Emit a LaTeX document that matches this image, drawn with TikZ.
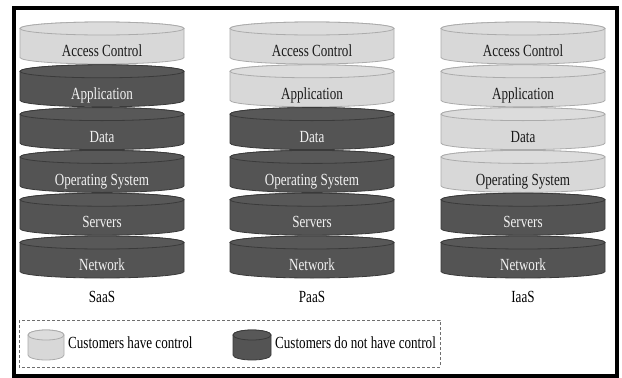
\documentclass[tikz,border=0pt]{standalone}
\usepackage{fontspec}
\setmainfont{Liberation Serif}[FakeStretch=0.77]
\usepackage{xcolor}
\definecolor{lightfill}{HTML}{D8D8D8}
\definecolor{lighttop}{HTML}{DCDCDC}
\definecolor{lightline}{HTML}{ABABAB}
\definecolor{darkfill}{HTML}{545454}
\definecolor{darktop}{HTML}{585858}
\definecolor{darkline}{HTML}{3A3A3A}
\definecolor{boxline}{HTML}{6E6E6E}

\tikzset{
  light drums/.style={
    drum body/.style={fill=lightfill,draw=lightline,line width=0.8pt},
    drum top/.style={fill=lighttop,draw=lightline,line width=0.8pt},
    drum text/.style={text=black!90}},
  dark drums/.style={
    drum body/.style={fill=darkfill,draw=darkline,line width=0.8pt},
    drum top/.style={fill=darktop,draw=darkline,line width=0.8pt},
    drum text/.style={text=white!95!black}},
  legendbox/.style={draw=boxline,line width=1pt,dash pattern=on 3pt off 2pt}
}

% one drum: centre x, top y, x radius, y radius, full height
\newcommand{\drum}[5]{%
  \path[drum body] (#1-#3,#2+#4) -- (#1-#3,#2+#5-#4)
    arc[start angle=180,end angle=0,x radius=#3,y radius=#4]
    -- (#1+#3,#2+#4)
    arc[start angle=0,end angle=-180,x radius=#3,y radius=#4] -- cycle;
  \path[drum top] (#1,#2+#4) ellipse[x radius=#3,y radius=#4];
}

\begin{document}
\begin{tikzpicture}[x=1pt,y=-1pt,
  every node/.style={inner sep=0pt,font=\fontsize{17}{20}\selectfont}]
  \useasboundingbox (0,0) rectangle (622,378);
  \fill[white] (0,0) rectangle (622,378);
  \draw[line width=4pt] (14,8) rectangle (616.5,376);

  % the three stacks; the first \nlight layers are in the customer's hands
  \foreach \col/\cx/\nlight/\name in {saas/102/1/SaaS, paas/312/2/PaaS, iaas/523/4/IaaS} {
    \foreach \txt [count=\i from 0] in {Access Control, Application, Data,
        Operating System, Servers, Network} {
      \pgfmathsetmacro\yt{22+42.8*\i}
      \ifnum\i<\nlight\tikzset{light drums}\else\tikzset{dark drums}\fi
      \drum{\cx}{\yt}{82}{6.5}{42}
      \node[drum text,anchor=base] (\col-\i) at (\cx,\yt+34.7) {\txt};
    }
    \node[anchor=base] (\col) at (\cx,302) {\name};
  }

  % legend
  \draw[legendbox] (19,320) rectangle (440,367);
  \begin{scope}[light drums]
    \drum{46}{330}{18}{5}{30}
  \end{scope}
  \begin{scope}[dark drums]
    \drum{252}{330}{19}{5}{30}
  \end{scope}
  \node[anchor=base west] (have) at (68,348) {Customers have control};
  \node[anchor=base west] (havenot) at (275,348) {Customers do not have control};
\end{tikzpicture}
\end{document}
